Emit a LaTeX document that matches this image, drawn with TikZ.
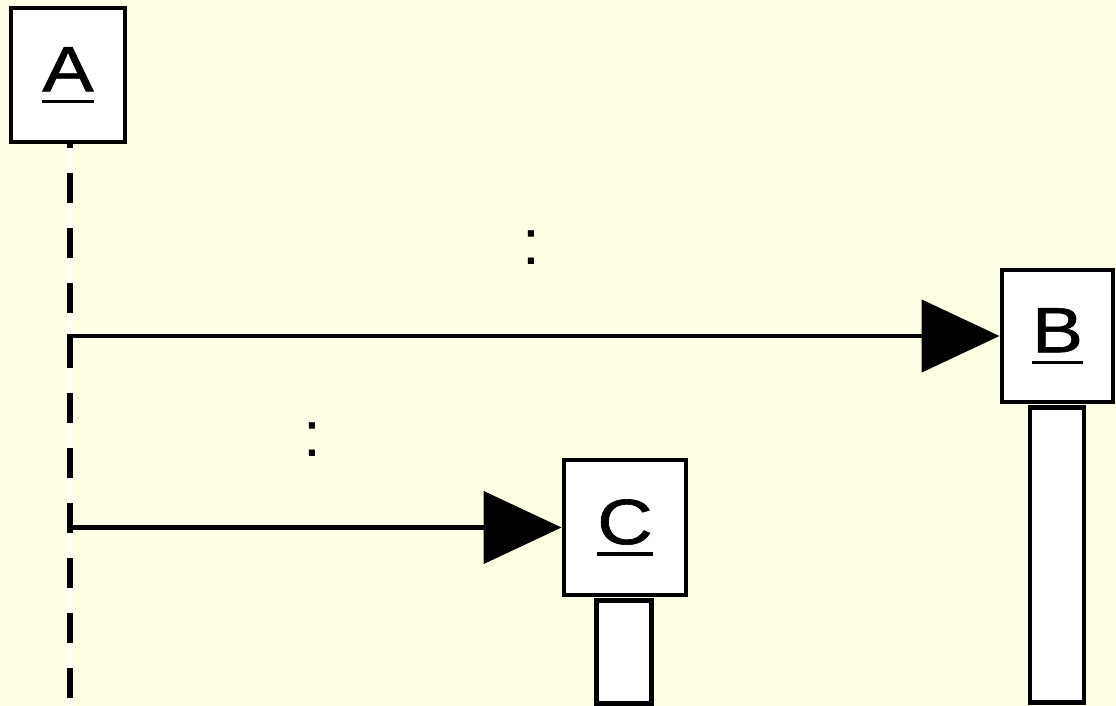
\documentclass[tikz,border=0pt]{standalone}
\usepackage{fontspec}
\setmainfont{Liberation Sans}
\newfontfamily\objfont{Liberation Sans}[FakeBold=1]
\usetikzlibrary{arrows.meta}
\definecolor{paper}{HTML}{FFFFE6}
\newcommand{\objname}[1]{\scalebox{1.2}[1]{\objfont\setbox0\hbox{#1}\rlap{\rule[-5.75pt]{\wd0}{1.6pt}}\box0}}

\begin{document}
\begin{tikzpicture}[x=0.5pt,y=-0.5pt,
    font=\fontsize{32pt}{38pt}\selectfont,
    object/.style={draw,fill=white,line width=2.4pt,inner sep=0pt},
    actbar/.style={draw,fill=white,line width=2.4pt,minimum width=27pt,anchor=north,inner sep=0pt},
    msg/.style={line width=2.2pt,-{Triangle[length=39pt,width=36pt]}},
    msglabel/.style={midway,anchor=base,yshift=35.5pt,xshift=-1pt,inner sep=0pt}]
  \fill[paper] (0,0) rectangle (1116,706);
  \useasboundingbox (0,0) rectangle (1116,706);

  % lifeline of A
  \coordinate (Atop) at (70,118);
  \coordinate (Aend) at (70,706);
  \draw[white,line width=2pt] (Atop) -- (Aend);
  \draw[line width=3.4pt,dash pattern=on 15pt off 12.5pt] (Atop) -- (Aend);

  \node[object,minimum width=57pt,minimum height=67pt] (A) at (68,75) {\objname{A}};
  \node[object,minimum width=55.5pt,minimum height=66pt] (B) at (1057.5,336) {\objname{B}};
  \node[object,minimum width=61pt,minimum height=67.5pt] (C) at (625,527.5) {\objname{C}};
  \node[actbar,minimum height=147.6pt] (Bact) at (1057,405) {};
  \node[actbar,minimum width=27.5pt,minimum height=51.4pt] (Cact) at (624,598) {};

  \coordinate (m1) at (67,336);
  \coordinate (m2) at (67,527.5);
  \draw[msg] (m1) -- node[msglabel,yshift=0.5pt] {:} (B.west);
  \draw[msg] (m2) -- node[msglabel] {:} (C.west);
\end{tikzpicture}
\end{document}
